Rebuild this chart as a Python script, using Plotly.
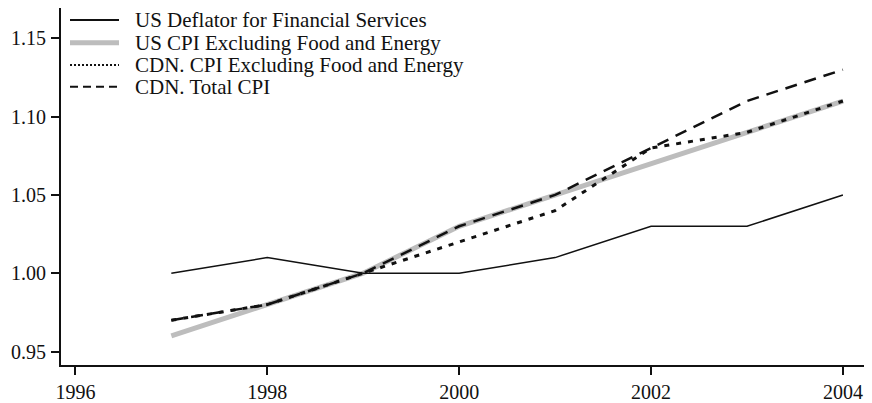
import plotly.graph_objects as go

years = [1997, 1998, 1999, 2000, 2001, 2002, 2003, 2004]
us_deflator = [1.00, 1.01, 1.00, 1.00, 1.01, 1.03, 1.03, 1.05]
us_core_cpi = [0.96, 0.98, 1.00, 1.03, 1.05, 1.07, 1.09, 1.11]
cdn_core_cpi = [0.97, 0.98, 1.00, 1.02, 1.04, 1.08, 1.09, 1.11]
cdn_total_cpi = [0.97, 0.98, 1.00, 1.03, 1.05, 1.08, 1.11, 1.13]

names = ["US Deflator for Financial Services",
         "US CPI Excluding Food and Energy",
         "CDN. CPI Excluding Food and Energy",
         "CDN. Total CPI"]
x_ticks = [1996, 1998, 2000, 2002, 2004]
y_ticks = [0.95, 1.00, 1.05, 1.10, 1.15]

font = "Liberation Serif"
ink = "#111111"

plot_styles = [dict(color=ink, width=1.5),
               dict(color="#bdbdbd", width=5),
               dict(color=ink, width=3, dash="5px,7px"),
               dict(color=ink, width=2.5, dash="12px,8px")]
legend_styles = [dict(color=ink, width=1.8),
                 dict(color="#bdbdbd", width=5),
                 dict(color=ink, width=2, dash="2px,2px"),
                 dict(color=ink, width=2, dash="8px,5px")]
series = [us_deflator, us_core_cpi, cdn_core_cpi, cdn_total_cpi]

FIG_W, FIG_H = 864, 395
ML, MR, MT, MB = 53, 7, 0, 38
W, H = FIG_W - ML - MR, FIG_H - MT - MB
OFF = 8  # page body margin

fig = go.Figure()
for i in [1, 0, 2, 3]:
    fig.add_trace(go.Scatter(x=years, y=series[i], mode="lines", name=names[i],
                             line=plot_styles[i], showlegend=False))

def px_x(p):
    return (p - OFF - ML) / W
def px_y(p):
    return (MT + H - (p - OFF)) / H

rows = [20, 42.7, 65, 86.7]
for i, name in enumerate(names):
    yy = px_y(rows[i])
    fig.add_shape(type="line", xref="paper", yref="paper",
                  x0=px_x(70), x1=px_x(119), y0=yy, y1=yy, line=legend_styles[i])
    fig.add_annotation(xref="paper", yref="paper", x=px_x(133), y=yy,
                       text=name, showarrow=False, xanchor="left", yanchor="middle",
                       font=dict(family=font, size=21, color=ink))

fig.update_layout(
    width=FIG_W, height=FIG_H,
    margin=dict(l=ML, r=MR, t=MT, b=MB, pad=0),
    paper_bgcolor="white", plot_bgcolor="white",
    font=dict(family=font, size=21, color=ink),
    showlegend=False,
    xaxis=dict(range=[1995.85, 2004.23], tickvals=x_ticks, automargin=False,
               tickfont=dict(size=20),
               showgrid=False, zeroline=False, showline=True, linecolor=ink,
               linewidth=2, ticks="outside", ticklen=8, tickwidth=2, tickcolor=ink),
    yaxis=dict(range=[0.9414, 1.1694], tickvals=y_ticks, tickformat=".2f", automargin=False,
               tickfont=dict(size=20), ticklabelstandoff=1,
               showgrid=False, zeroline=False, showline=True, linecolor=ink,
               linewidth=2, ticks="outside", ticklen=8, tickwidth=2, tickcolor=ink),
)

fig.write_html("out.html")
